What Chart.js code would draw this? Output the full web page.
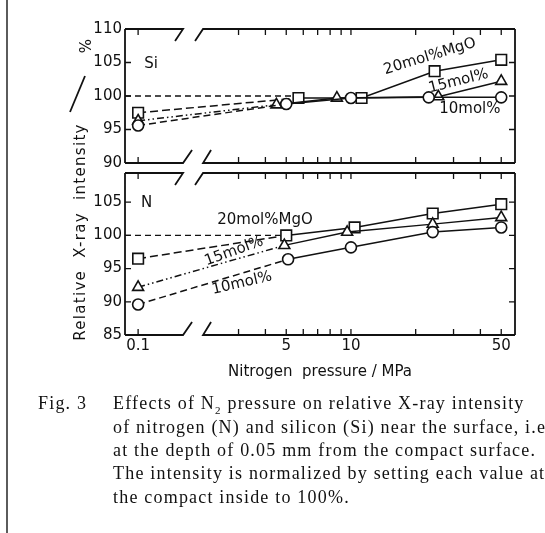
<!DOCTYPE html>
<html>
<head>
<meta charset="utf-8">
<script src="https://cdn.jsdelivr.net/npm/chart.js@4.4.1/dist/chart.umd.min.js"></script>
<style>
  html, body { margin: 0; padding: 0; background: #fff; }
  body { width: 545px; height: 533px; position: relative; overflow: hidden; color: #111; font-family: "DejaVu Sans", sans-serif; }
  canvas { position: absolute; left: 0; }
  #siChart { top: 0; }
  #nChart { top: 160px; }
  .rot { position: absolute; font-size: 15px; line-height: 20px; height: 20px; text-align: center; white-space: pre; transform: rotate(-90deg); }
  .cap { position: absolute; left: 0; width: 700px; font-family: "Liberation Serif", serif; font-size: 18px; letter-spacing: 1.2px; line-height: 22px; white-space: nowrap; color: #111; }
  .cap .fig { position: absolute; left: 38px; }
  .cap .txt { position: absolute; left: 113px; }
  svg { position: absolute; left: 0; top: 0; }
</style>
</head>
<body>
<canvas id="siChart" width="545" height="175"></canvas>
<canvas id="nChart" width="545" height="240"></canvas>

<svg width="545" height="533">
  <line x1="7" y1="0" x2="7" y2="533" stroke="#333" stroke-width="1.6"/>
  <line x1="70" y1="112" x2="85" y2="76" stroke="#111" stroke-width="1.8"/>
</svg>
<div class="rot" style="left:-60px; top:222px; width:280px; letter-spacing:1.3px;">Relative  X-ray  intensity</div>
<div class="rot" style="left:71px; top:36px; width:30px;">%</div>

<div class="cap" style="top:392px"><span class="fig">Fig. 3</span><span class="txt">Effects of N<sub style="font-size:11px">2</sub> pressure on relative X-ray intensity</span></div>
<div class="cap" style="top:416px"><span class="txt">of nitrogen (N) and silicon (Si) near the surface, i.e.</span></div>
<div class="cap" style="top:439px"><span class="txt">at the depth of 0.05 mm from the compact surface.</span></div>
<div class="cap" style="top:462px"><span class="txt">The intensity is normalized by setting each value at</span></div>
<div class="cap" style="top:486px"><span class="txt">the compact inside to 100%.</span></div>

<script>
// pressures (MPa) and relative intensities (%)
// Si panel
const siP20 = [0.1, 5.7, 11.2, 24.5, 50];
const si20  = [97.5, 99.7, 99.7, 103.7, 105.4];
const siP15 = [0.1, 4.5, 8.6, 25.5, 50];
const si15  = [96.3, 98.7, 99.7, 99.9, 102.2];
const siP10 = [0.1, 5.0, 10, 23, 50];
const si10  = [95.6, 98.8, 99.7, 99.8, 99.8];

// N panel
const nP20 = [0.1, 5.0, 10.4, 24, 50];
const n20  = [96.5, 100.0, 101.2, 103.3, 104.7];
const nP15 = [0.1, 4.9, 9.6, 24, 50];
const n15  = [92.2, 98.5, 100.5, 101.7, 102.7];
const nP10 = [0.1, 5.1, 10, 24, 50];
const n10  = [89.6, 96.4, 98.2, 100.5, 101.2];

// axis ticks
const xTickP = [0.1, 3, 4, 5, 6, 7, 8, 9, 10, 20, 30, 40, 50];
const xLabelP = [0.1, 5, 10, 50];
const xLabels = ['0.1', '5', '10', '50'];
const siYTicks = [90, 95, 100, 105, 110];
const nYTicks = [85, 90, 95, 100, 105];

// reference line (inside = 100 %) ends
const siRefEnd = 5.4;
const nRefEnd = 4.7;

const INK = '#111';
const FONT = '"DejaVu Sans", sans-serif';

// axis is log10(p) with a break: 0.1 MPa sits just left of the break
const LOW_U = 0.01;
const X_MIN = -0.051, X_MAX = 1.763;
const BREAK_U = [0.219, 0.312];
function toAxis(p) { return p < 1 ? LOW_U : Math.log10(p); }

const radius = { rect: 7.5, triangle: 6.3, circle: 5.5 };

function series(ps, vals, style, dash) {
    return {
        data: ps.map((p, i) => ({ x: toAxis(p), y: vals[i] })),
        borderColor: INK,
        borderWidth: 1.5,
        pointStyle: style,
        pointRadius: radius[style],
        pointBorderWidth: 1.6,
        pointBackgroundColor: '#fff',
        pointBorderColor: INK,
        tension: 0,
        segment: { borderDash: ctx => ctx.p0DataIndex === 0 ? dash : undefined }
    };
}

function refLine(endP) {
    return {
        data: [{ x: X_MIN, y: 100 }, { x: toAxis(endP), y: 100 }],
        borderColor: INK,
        borderWidth: 1.3,
        borderDash: [6, 4],
        pointRadius: 0
    };
}

// frame with inward ticks and the axis break
const framePlugin = {
    id: 'frame',
    afterDraw(chart) {
        const { ctx, chartArea: a, scales } = chart;
        const x = scales.x, y = scales.y;
        const b0 = x.getPixelForValue(BREAK_U[0]);
        const b1 = x.getPixelForValue(BREAK_U[1]);
        ctx.save();
        ctx.strokeStyle = INK;
        ctx.lineWidth = 1.8;
        ctx.beginPath();
        ctx.moveTo(a.left, a.top); ctx.lineTo(a.left, a.bottom);
        ctx.moveTo(a.right, a.top); ctx.lineTo(a.right, a.bottom);
        // top edge
        ctx.moveTo(a.left, a.top); ctx.lineTo(b0, a.top); ctx.lineTo(b0 - 8, a.top + 12);
        ctx.moveTo(b1 - 8, a.top + 12); ctx.lineTo(b1, a.top); ctx.lineTo(a.right, a.top);
        // bottom edge
        ctx.moveTo(a.left, a.bottom); ctx.lineTo(b0, a.bottom); ctx.lineTo(b0 + 9, a.bottom - 13);
        ctx.moveTo(b1 + 8, a.bottom - 13); ctx.lineTo(b1, a.bottom); ctx.lineTo(a.right, a.bottom);
        ctx.stroke();

        ctx.lineWidth = 1.3;
        ctx.beginPath();
        xTickP.forEach(p => {
            const px = x.getPixelForValue(toAxis(p));
            ctx.moveTo(px, a.top); ctx.lineTo(px, a.top + 6);
            ctx.moveTo(px, a.bottom); ctx.lineTo(px, a.bottom - 6);
        });
        y.ticks.forEach(t => {
            const py = y.getPixelForValue(t.value);
            if (py <= a.top + 1 || py >= a.bottom - 1) return;
            ctx.moveTo(a.left, py); ctx.lineTo(a.left + 6, py);
            ctx.moveTo(a.right, py); ctx.lineTo(a.right - 6, py);
        });
        ctx.stroke();
        ctx.restore();
    }
};

function notesPlugin(items) {
    return {
        id: 'notes',
        afterDatasetsDraw(chart) {
            const { ctx, scales } = chart;
            ctx.save();
            ctx.fillStyle = INK;
            ctx.font = '15px ' + FONT;
            ctx.textAlign = 'center';
            ctx.textBaseline = 'middle';
            items.forEach(n => {
                ctx.save();
                ctx.translate(scales.x.getPixelForValue(n.u), scales.y.getPixelForValue(n.v));
                ctx.rotate(n.rot * Math.PI / 180);
                ctx.fillText(n.text, 0, 0);
                ctx.restore();
            });
            ctx.restore();
        }
    };
}

function yScale(min, max, ticks) {
    return {
        min: min, max: max,
        grid: { display: false, drawTicks: false },
        border: { display: false },
        afterBuildTicks: s => { s.ticks = ticks.map(v => ({ value: v })); },
        afterFit: s => { s.width = 125; },
        ticks: { color: INK, padding: 3, font: { family: FONT, size: 15 } }
    };
}

const baseOptions = {
    responsive: false,
    animation: false,
    devicePixelRatio: 1,
    plugins: { legend: { display: false }, tooltip: { enabled: false } }
};

// Si panel
new Chart(document.getElementById('siChart'), {
    type: 'line',
    data: {
        datasets: [
            refLine(siRefEnd),
            series(siP10, si10, 'circle', [7, 4]),
            series(siP15, si15, 'triangle', [7, 3, 1.5, 3, 1.5, 3]),
            series(siP20, si20, 'rect', [8, 4])
        ]
    },
    options: {
        ...baseOptions,
        layout: { padding: { left: 0, right: 30, top: 29, bottom: 10 } },
        scales: {
            x: { type: 'linear', min: X_MIN, max: X_MAX, display: false },
            y: yScale(90, 110, siYTicks)
        }
    },
    plugins: [framePlugin, notesPlugin([
        { text: 'Si', u: 0.07, v: 104.8, rot: 0 },
        { text: '20mol%MgO', u: 1.367, v: 105.9, rot: -17 },
        { text: '15mol%', u: 1.50, v: 102.2, rot: -14 },
        { text: '10mol%', u: 1.553, v: 98.0, rot: 0 }
    ])]
});

// N panel
new Chart(document.getElementById('nChart'), {
    type: 'line',
    data: {
        datasets: [
            refLine(nRefEnd),
            series(nP10, n10, 'circle', [7, 4]),
            series(nP15, n15, 'triangle', [7, 3, 1.5, 3, 1.5, 3]),
            series(nP20, n20, 'rect', [8, 4])
        ]
    },
    options: {
        ...baseOptions,
        layout: { padding: { left: 0, right: 30, top: 13, bottom: 15 } },
        scales: {
            x: {
                type: 'linear', min: X_MIN, max: X_MAX,
                grid: { display: false, drawTicks: false },
                border: { display: false },
                afterBuildTicks: s => { s.ticks = xLabelP.map(p => ({ value: toAxis(p) })); },
                afterFit: s => { s.height = 50; },
                ticks: {
                    color: INK, padding: 2, autoSkip: false, maxRotation: 0,
                    font: { family: FONT, size: 15 },
                    callback: (v, i) => xLabels[i]
                },
                title: {
                    display: true, text: 'Nitrogen  pressure / MPa', color: INK,
                    font: { family: FONT, size: 15 }, padding: { top: 0, bottom: 4 }
                }
            },
            y: yScale(85, 109.4, nYTicks)
        }
    },
    plugins: [framePlugin, notesPlugin([
        { text: 'N', u: 0.05, v: 104.8, rot: 0 },
        { text: '20mol%MgO', u: 0.60, v: 102.3, rot: 0 },
        { text: '15mol%', u: 0.456, v: 97.6, rot: -20 },
        { text: '10mol%', u: 0.493, v: 92.8, rot: -13 }
    ])]
});
</script>
</body>
</html>
